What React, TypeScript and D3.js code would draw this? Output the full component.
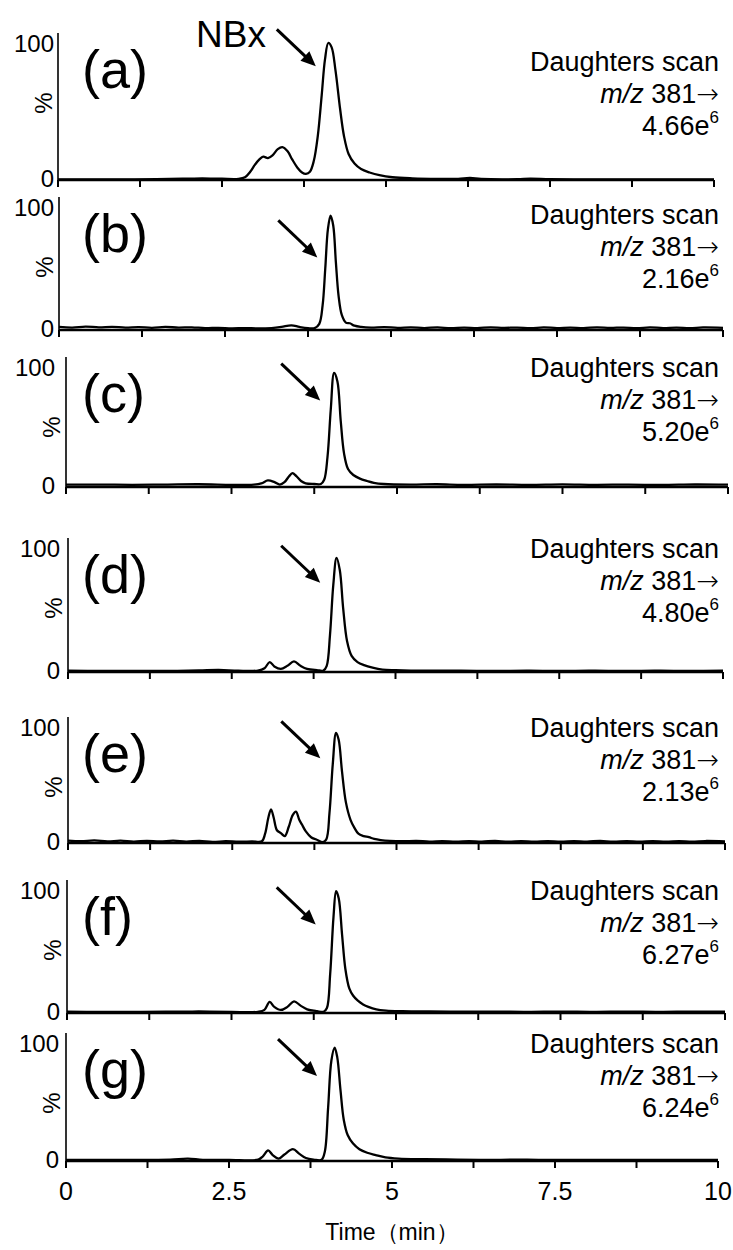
import React from 'react';
import * as d3 from 'd3';

// ---------- data ----------
const panelLabels = ['(a)', '(b)', '(c)', '(d)', '(e)', '(f)', '(g)'];
const intensities = ['4.66', '2.16', '5.20', '4.80', '2.13', '6.27', '6.24'];
const xTicks = [0, 1.25, 2.5, 3.75, 5, 6.25, 7.5, 8.75, 10];
const xTickLabels = [0, 2.5, 5, 7.5, 10];
const yTickLabels = [0, 100];

const traceA: [number, number][] = [
  [0, 0.5], [0.5, 0.4], [1, 0.5], [1.5, 0.6], [1.9, 0.9], [2.2, 1.2], [2.5, 0.9], [2.75, 0.8],
  [2.85, 2], [2.93, 6], [3.0, 11], [3.07, 15], [3.13, 17], [3.2, 16], [3.27, 18], [3.35, 22.5],
  [3.42, 24], [3.5, 21], [3.57, 15], [3.65, 9], [3.72, 5.5], [3.78, 4.5], [3.84, 6], [3.9, 14],
  [3.96, 32], [4.02, 62], [4.07, 88], [4.12, 100], [4.17, 97], [4.23, 80], [4.3, 52], [4.36, 32],
  [4.43, 19], [4.52, 12], [4.62, 8], [4.75, 5.5], [4.9, 3.5], [5.1, 2], [5.4, 1.2], [5.8, 0.8],
  [6.1, 0.8], [6.28, 1.5], [6.45, 0.8], [7.0, 0.6], [7.2, 1.0], [7.5, 0.6], [8, 0.5], [9, 0.5], [10, 0.5],
];
const traceB: [number, number][] = [
  [0, 2.5], [0.2, 2], [0.4, 2.8], [0.6, 2.2], [0.8, 2.6], [1.0, 2], [1.2, 2.4], [1.4, 1.8], [1.6, 2.5],
  [1.8, 2], [2.0, 2.2], [2.2, 1.5], [2.4, 1.8], [2.6, 1.4], [2.8, 1.6], [3.0, 1.3], [3.2, 1.6],
  [3.35, 2.5], [3.5, 3.8], [3.62, 2.5], [3.75, 1.5], [3.85, 1.5], [3.92, 5], [3.97, 20], [4.01, 50],
  [4.05, 82], [4.09, 93], [4.13, 85], [4.17, 55], [4.21, 28], [4.26, 12], [4.32, 6], [4.38, 5.5],
  [4.45, 3.5], [4.55, 2.5], [4.7, 2], [4.9, 2.4], [5.1, 1.8], [5.3, 2.2], [5.5, 1.6], [5.7, 2.1],
  [5.9, 1.5], [6.1, 2], [6.3, 1.6], [6.5, 2.2], [6.7, 1.7], [6.9, 2], [7.1, 1.5], [7.3, 2.1],
  [7.5, 1.6], [7.7, 2], [7.9, 1.5], [8.1, 2.2], [8.3, 1.7], [8.5, 2], [8.7, 1.5], [8.9, 2.1],
  [9.1, 1.6], [9.3, 2], [9.5, 1.5], [9.7, 2.1], [10, 1.8],
];
const traceC: [number, number][] = [
  [0, 2], [0.5, 2], [1, 1.8], [1.5, 2], [2, 2.3], [2.5, 1.8], [2.8, 1.8], [2.95, 3], [3.05, 5.5],
  [3.15, 4], [3.23, 2], [3.3, 4], [3.37, 9], [3.42, 11.5], [3.48, 9], [3.55, 5], [3.62, 3],
  [3.75, 2.5], [3.85, 2.5], [3.9, 6], [3.95, 25], [4.0, 65], [4.05, 95], [4.1, 88], [4.15, 55],
  [4.2, 28], [4.26, 15], [4.34, 10], [4.44, 7], [4.55, 5], [4.65, 3.5], [4.8, 2.5], [5.2, 2],
  [5.6, 2.3], [6, 1.8], [6.5, 2.1], [7, 1.8], [7.5, 2.2], [8, 1.8], [8.5, 2], [9, 1.7], [9.5, 2.1], [10, 1.9],
];
const traceD: [number, number][] = [
  [0, 1], [0.5, 0.8], [1, 0.9], [1.5, 0.8], [2, 1.2], [2.3, 1.6], [2.6, 1], [2.9, 1.2], [3.0, 3],
  [3.08, 8], [3.15, 4.5], [3.25, 2.5], [3.35, 5], [3.45, 8.5], [3.55, 5], [3.65, 2.5], [3.8, 1.5],
  [3.9, 1.2], [3.95, 5], [4.0, 30], [4.05, 70], [4.1, 92], [4.15, 82], [4.2, 52], [4.26, 25],
  [4.33, 13], [4.42, 8], [4.52, 5.5], [4.65, 3.5], [4.8, 2], [5, 1.5], [5.5, 1], [6, 1.1],
  [6.5, 0.8], [7, 1], [7.5, 0.8], [8, 1], [8.5, 0.8], [9, 1], [9.5, 0.8], [10, 1],
];
const traceE: [number, number][] = [
  [0, 2], [0.2, 1.5], [0.4, 2.2], [0.6, 1.4], [0.8, 2], [1.0, 1.2], [1.2, 1.8], [1.4, 1.3], [1.6, 2],
  [1.8, 1.2], [2.0, 1.8], [2.2, 1], [2.4, 1.5], [2.6, 1.1], [2.8, 1.4], [2.95, 1.5], [3.0, 8],
  [3.05, 22], [3.09, 29], [3.13, 22], [3.18, 11], [3.24, 8.5], [3.3, 6], [3.36, 14], [3.42, 24],
  [3.47, 27], [3.52, 20], [3.56, 16], [3.62, 10], [3.7, 5], [3.78, 3], [3.87, 0.8], [3.93, 3],
  [3.98, 26], [4.03, 68], [4.08, 95], [4.12, 89], [4.17, 62], [4.23, 35], [4.3, 20], [4.36, 13],
  [4.42, 8], [4.5, 6], [4.58, 5], [4.66, 3.5], [4.76, 2.5], [4.9, 1.8], [5.1, 1.5], [5.3, 1.9],
  [5.5, 1.2], [5.7, 1.7], [5.9, 1.1], [6.1, 1.6], [6.3, 1.2], [6.5, 1.8], [6.7, 1.1], [6.9, 1.6],
  [7.1, 1.2], [7.3, 1.7], [7.5, 1.1], [7.7, 1.6], [7.9, 1.2], [8.1, 1.8], [8.3, 1.1], [8.5, 1.6],
  [8.7, 1.2], [8.9, 1.7], [9.1, 1.1], [9.3, 1.6], [9.5, 1.2], [9.7, 1.7], [10, 1.3],
];
const traceF: [number, number][] = [
  [0, 1], [0.5, 0.9], [1, 0.8], [1.5, 1], [2, 1.2], [2.5, 0.9], [2.9, 1], [3.0, 2.5], [3.08, 9],
  [3.15, 5], [3.25, 2.5], [3.35, 5], [3.45, 9.5], [3.55, 6], [3.65, 3], [3.8, 1.5], [3.9, 1],
  [3.95, 4], [4.0, 32], [4.05, 78], [4.09, 99], [4.13, 93], [4.18, 64], [4.23, 36], [4.29, 20],
  [4.35, 14], [4.42, 10], [4.5, 7], [4.58, 5], [4.7, 3], [4.85, 2], [5.1, 1.5], [5.5, 1.2],
  [6, 1], [6.5, 1.1], [7, 0.9], [7.5, 1.1], [8, 0.9], [8.5, 1.1], [9, 0.9], [9.5, 1.1], [10, 1],
];
const traceG: [number, number][] = [
  [0, 1], [0.5, 0.9], [1, 0.9], [1.6, 1.2], [1.87, 2], [2.1, 1], [2.5, 1], [2.95, 1.2], [3.02, 4],
  [3.1, 9], [3.17, 5], [3.26, 2], [3.35, 5.5], [3.48, 10], [3.58, 6], [3.68, 2.5], [3.8, 1.2],
  [3.92, 1], [3.97, 8], [4.02, 45], [4.07, 85], [4.12, 96], [4.16, 88], [4.21, 60], [4.26, 35],
  [4.32, 22], [4.4, 15], [4.5, 10], [4.62, 7], [4.75, 5], [4.9, 3], [5.1, 2], [5.5, 1.5],
  [6, 1.2], [6.5, 1], [7, 1.1], [7.5, 0.9], [8, 1], [8.5, 0.9], [9, 1], [9.5, 0.9], [10, 1],
];
const traces = [traceA, traceB, traceC, traceD, traceE, traceF, traceG];
// arrow tips in data coordinates (time, %)
const arrowTips: [number, number][] = [
  [3.93, 83], [3.89, 59], [3.84, 72], [3.85, 72], [3.84, 73], [3.78, 72], [3.85, 72],
];

// ---------- layout ----------
const layout = [
  { x0: 58, x1: 714, base: 180, h: 137, txt: 28, lab: 54 },
  { x0: 59, x1: 723, base: 330, h: 123, txt: 17, lab: 54 },
  { x0: 66, x1: 728, base: 487, h: 120, txt: 10, lab: 55 },
  { x0: 68, x1: 723, base: 672, h: 124, txt: 10, lab: 60 },
  { x0: 68, x1: 725, base: 843, h: 116, txt: 10, lab: 60 },
  { x0: 67, x1: 725, base: 1013, h: 123, txt: 10, lab: 60 },
  { x0: 66, x1: 718, base: 1161, h: 118, txt: 10, lab: 59 },
];

const FONT = '"Liberation Sans", Arial, Helvetica, sans-serif';

function Panel({ i }: { i: number }) {
  const L = layout[i];
  const x = d3.scaleLinear().domain([0, 10]).range([L.x0, L.x1]);
  const y = d3.scaleLinear().domain([0, 100]).range([L.base, L.base - L.h]);
  const line = d3
    .line<[number, number]>()
    .x((d) => x(d[0]))
    .y((d) => y(d[1]))
    .curve(d3.curveCatmullRom.alpha(0.5));
  const tipX = x(arrowTips[i][0]);
  const tipY = y(arrowTips[i][1]);
  const sx = tipX - 39;
  const sy = tipY - 37;
  const len = Math.hypot(tipX - sx, tipY - sy);
  const ux = (tipX - sx) / len;
  const uy = (tipY - sy) / len;
  const hl = 15;
  const hw = 6.5;
  const bx = tipX - ux * hl;
  const by = tipY - uy * hl;
  const head = `${tipX},${tipY} ${bx - uy * hw},${by + ux * hw} ${bx + uy * hw},${by - ux * hw}`;
  const y100 = y(100);
  const tb = y100 + L.txt;
  return (
    <g>
      <line x1={L.x0} x2={L.x0} y1={y100 - 10} y2={L.base} stroke="#000" strokeWidth={1.6} />
      <path d={line(traces[i]) || ''} fill="none" stroke="#000" strokeWidth={2.3} strokeLinejoin="round" />
      <line x1={L.x0} x2={L.x1} y1={L.base} y2={L.base} stroke="#000" strokeWidth={2.6} />
      {xTicks.map((t) => (
        <line key={t} x1={x(t)} x2={x(t)} y1={L.base} y2={L.base + 7} stroke="#000" strokeWidth={2} />
      ))}
      {yTickLabels.map((v) => (
        <text
          key={v}
          x={L.lab}
          y={v === 100 ? y100 + 8.5 : L.base + 7}
          textAnchor="end"
          fontSize={24}
          fontFamily={FONT}
        >
          {v}
        </text>
      ))}
      <text
        transform={`translate(${L.x0 - 15},${y100 + 60}) rotate(-90)`}
        textAnchor="middle"
        dominantBaseline="central"
        fontSize={24}
        fontFamily={FONT}
      >
        %
      </text>
      <text x={82} y={y100 + 45} fontSize={54} fontFamily={FONT}>
        {panelLabels[i]}
      </text>
      <line x1={sx} y1={sy} x2={bx + ux * 2} y2={by + uy * 2} stroke="#000" strokeWidth={3} />
      <polygon points={head} fill="#000" />
      <g fontFamily={FONT} fontSize={27} textAnchor="end">
        <text x={719} y={tb}>Daughters scan</text>
        <text x={719} y={tb + 32}>
          <tspan fontStyle="italic">m/z</tspan> 381<tspan fontFamily='"DejaVu Sans", sans-serif' fontWeight={300}>→</tspan>
        </text>
        <text x={719} y={tb + 64}>
          {intensities[i]}e<tspan dy={-12} fontSize={17}>6</tspan>
        </text>
      </g>
    </g>
  );
}

export default function App() {
  const g = layout[6];
  const xg = d3.scaleLinear().domain([0, 10]).range([g.x0, g.x1]);
  return (
    <div style={{ position: 'absolute', left: 0, top: 0 }}>
      <svg width={733} height={1250} style={{ display: 'block', background: '#fff' }}>
        <rect width={733} height={1250} fill="#fff" />
        {layout.map((_, i) => (
          <Panel key={i} i={i} />
        ))}
        <text x={266} y={47} textAnchor="end" fontSize={37} fontFamily={FONT}>
          NBx
        </text>
        {xTickLabels.map((t) => (
          <text key={t} x={xg(t)} y={g.base + 39} textAnchor="middle" fontSize={25} fontFamily={FONT}>
            {t}
          </text>
        ))}
        <text x={392} y={g.base + 79} textAnchor="middle" fontSize={23} fontFamily={FONT}>
          Time（min）
        </text>
      </svg>
    </div>
  );
}
